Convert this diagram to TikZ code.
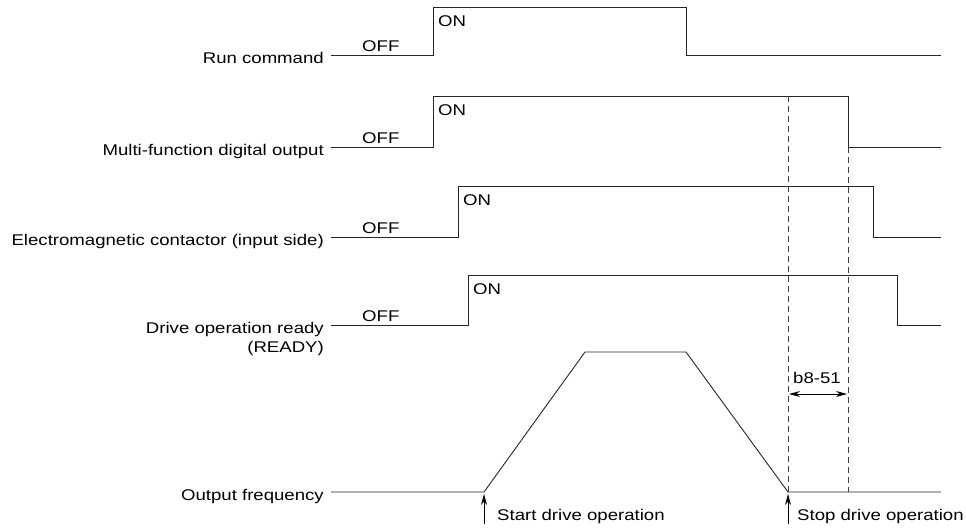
\documentclass[tikz,border=0pt]{standalone}
\usepackage{fontspec}
\setmainfont[FakeStretch=1.2]{Liberation Sans}
\usetikzlibrary{arrows.meta}
\begin{document}
\begin{tikzpicture}[x=1pt,y=-1pt,
  sig/.style={draw=black!85,line width=0.9pt},
  lbl/.style={anchor=base east,inner sep=0pt,font=\fontsize{15.5}{18}\selectfont},
  txt/.style={anchor=base west,inner sep=0pt,font=\fontsize{15.5}{18}\selectfont},
  guide/.style={draw=black!75,line width=0.8pt,dash pattern=on 6pt off 4pt},
  tip/.style={-{Stealth[length=11pt,width=6pt]},line width=0.9pt}]
\useasboundingbox (0,0) rectangle (966,528);
% labels
\node[lbl] (l1) at (324,63) {Run command};
\node[lbl] (l2) at (324,155) {Multi-function digital output};
\node[lbl] (l3) at (324,245) {Electromagnetic contactor (input side)};
\node[lbl] (l4) at (324,333) {Drive operation ready};
\node[lbl] (l4b) at (324,352) {(READY)};
\node[lbl] (l5) at (324,500) {Output frequency};
% OFF / ON
\foreach \n/\y in {a/51, b/143, c/233, d/321}
  \node[txt] (off\n) at (362,\y) {OFF};
\foreach \n/\x/\y in {a/438/26, b/438/115, c/463/205, d/473/294}
  \node[txt] (on\n) at (\x,\y) {ON};
% Run command
\coordinate (a0) at (331,55); \coordinate (a1) at (433,55); \coordinate (a2) at (433,7);
\coordinate (a3) at (686,7); \coordinate (a4) at (686,55); \coordinate (a5) at (941,55);
\draw[sig] (a0) -- (a1) -- (a2) -- (a3) -- (a4) -- (a5);
% Multi-function digital output
\coordinate (b0) at (331,147); \coordinate (b1) at (433,147); \coordinate (b2) at (433,96);
\coordinate (b3) at (848,96); \coordinate (b4) at (848,147); \coordinate (b5) at (941,147);
\draw[sig] (b0) -- (b1) -- (b2) -- (b3) -- (b4) -- (b5);
% Electromagnetic contactor
\coordinate (c0) at (331,237); \coordinate (c1) at (458,237); \coordinate (c2) at (458,186);
\coordinate (c3) at (873,186); \coordinate (c4) at (873,237); \coordinate (c5) at (941,237);
\draw[sig] (c0) -- (c1) -- (c2) -- (c3) -- (c4) -- (c5);
% Drive operation ready
\coordinate (d0) at (331,325); \coordinate (d1) at (468,325); \coordinate (d2) at (468,275);
\coordinate (d3) at (897,275); \coordinate (d4) at (897,325); \coordinate (d5) at (941,325);
\draw[sig] (d0) -- (d1) -- (d2) -- (d3) -- (d4) -- (d5);
% Output frequency
\coordinate (e0) at (331,492); \coordinate (e1) at (484,492); \coordinate (e2) at (585,352);
\coordinate (e3) at (686,352); \coordinate (e4) at (788,492); \coordinate (e5) at (941,492);
\draw[sig] (e0) -- (e1) -- (e2) -- (e3) -- (e4) -- (e5);
% dashed guides
\coordinate (g1t) at (788,96); \coordinate (g1b) at (788,492);
\coordinate (g2t) at (848,147); \coordinate (g2b) at (848,492);
\draw[guide] (g1t) -- (g1b);
\draw[guide] (g2t) -- (g2b);
% b8-51
\coordinate (h1) at (789,394); \coordinate (h2) at (847,394);
\draw[{Stealth[length=11pt,width=6pt]}-{Stealth[length=11pt,width=6pt]},line width=0.9pt] (h1) -- (h2);
\node[txt] (tb) at (793,383) {b8-51};
% start/stop arrows
\coordinate (s0) at (484,524); \coordinate (s1) at (484,494);
\coordinate (t0) at (788,524); \coordinate (t1) at (788,494);
\draw[tip] (s0) -- (s1);
\draw[tip] (t0) -- (t1);
\node[txt] (ts) at (497,520) {Start drive operation};
\node[txt] (tt) at (797,520) {Stop drive operation};
\end{tikzpicture}
\end{document}
